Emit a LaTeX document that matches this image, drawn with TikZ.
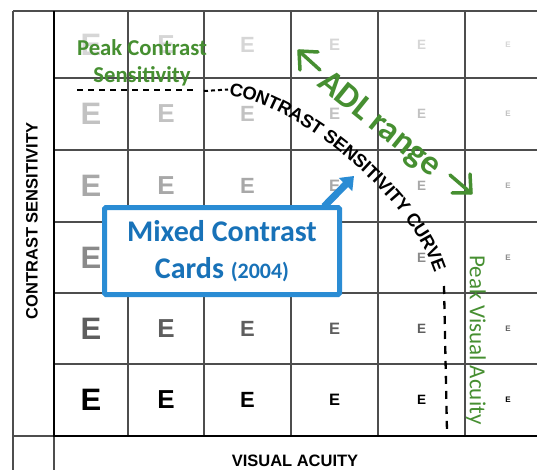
\documentclass[tikz,border=0pt]{standalone}
\usepackage{fontspec}
\setmainfont{Liberation Sans}
\newfontfamily\calfont{Carlito}
\usetikzlibrary{decorations.text,arrows.meta,calc}
\definecolor{gridc}{HTML}{4D4D4D}
\definecolor{adlgreen}{HTML}{468F31}
\definecolor{boxblue}{HTML}{2A8CD4}
\definecolor{textblue}{HTML}{1872B8}
\definecolor{ecol1}{HTML}{D6D6D6}
\definecolor{ecol2}{HTML}{C2C2C2}
\definecolor{ecol3}{HTML}{A8A8A8}
\definecolor{ecol4}{HTML}{8A8A8A}
\definecolor{ecol5}{HTML}{5E5E5E}
\definecolor{ecol6}{HTML}{000000}
\tikzset{
  thinline/.style={draw=gridc, line width=1.2pt},
  gridline/.style={draw=gridc, line width=1.2pt},
  thickline/.style={draw=black, line width=2.6pt, line join=miter},
  echar/.style={inner sep=0pt},
  greentext/.style={text=adlgreen, inner sep=0pt},
  curvedash/.style={draw=black, line width=2pt, dash pattern=on 6pt off 5pt},
  vertdash/.style={draw=black, line width=2.3pt, dash pattern=on 8pt off 7pt},
  adlarrow/.style={draw=adlgreen, line width=3.5pt, line cap=round, line join=round},
  mcbox/.style={draw=boxblue, line width=5pt, fill=white, text=textblue,
    font=\calfont\bfseries\fontsize{30}{37}\selectfont, align=center,
    minimum width=235pt, minimum height=87pt, inner sep=0pt, rounded corners=1.5pt},
  bluearrow/.style={draw=boxblue, line width=7pt, -{Triangle[length=12pt,width=18pt]}},
  axislabel/.style={font=\bfseries\fontsize{16.5}{16.5}\selectfont, inner sep=0pt}
}
\begin{document}
\begin{tikzpicture}[x=1pt,y=-1pt]
\useasboundingbox (0,0) rectangle (537,470);
\fill[white] (0,0) rectangle (537,470);
% frame and grid
\draw[thinline] (13,11) -- (537,11);
\draw[thinline] (13,11) -- (13,470);
\foreach \x in {128,204,291,378,465} \draw[gridline] (\x,11) -- (\x,436);
\foreach \y in {78,150,222,293,364} \draw[gridline] (54,\y) -- (537,\y);
\draw[thinline] (13,436) -- (54,436);
\draw[thinline] (54,436) -- (54,470);
\draw[thickline] (54,11) -- (54,436) -- (537,436);
% letters E
\foreach \yy/\cc [count=\i] in {44.5/ecol1,114/ecol2,186/ecol3,257.5/ecol4,328.5/ecol5,400/ecol6}{
  \foreach \xx/\ss [count=\j] in {91/31,166/26,247.5/22,334.5/16.5,421.5/13.5,508/8}{
    \node[echar, text=\cc, font=\bfseries\fontsize{\ss}{\ss}\selectfont] (e\i\j) at (\xx,\yy) {E};
  }
}
% peak contrast sensitivity
\node[greentext, font=\calfont\bfseries\fontsize{22.7}{27}\selectfont, anchor=base] (pcs1) at (142,56) {Peak Contrast};
\node[greentext, font=\calfont\bfseries\fontsize{22.7}{27}\selectfont, anchor=base] (pcs2) at (142,83) {Sensitivity};
% contrast sensitivity curve
\coordinate (h1) at (77,90);
\coordinate (h2) at (194,90);
\coordinate (h3) at (204,91);
\coordinate (h4) at (228,89.5);
\coordinate (c0) at (230,89);
\coordinate (c3) at (446,300);
\coordinate (v1) at (444,286);
\coordinate (v2) at (447,432);
\draw[curvedash] (h1) -- (h2);
\draw[curvedash, dash pattern=on 4pt off 3pt] (h3) -- (h4);
\path[decorate, decoration={text along path, text align=left, raise=-6.5pt,
  text={|\bfseries\fontsize{18.3}{18.3}\selectfont|CONTRAST SENSITIVITY CURVE}}]
  (c0) .. controls (305,98) and (445,215) .. (c3);
\draw[vertdash] (v1) -- (v2);
% ADL range
\node[greentext, font=\calfont\bfseries\fontsize{35}{35}\selectfont, rotate=-39] (adl) at (379,125) {ADL range};
\coordinate (a1tip) at (299,51);
\coordinate (a1tail) at (320,70);
\coordinate (a1b1) at (318,52);
\coordinate (a1b2) at (300,70);
\draw[adlarrow] (a1tail) -- (a1tip);
\draw[adlarrow] (a1b1) -- (a1tip) -- (a1b2);
\coordinate (a2tip) at (471,193);
\coordinate (a2tail) at (450,175);
\coordinate (a2b1) at (452,193);
\coordinate (a2b2) at (470,174);
\draw[adlarrow] (a2tail) -- (a2tip);
\draw[adlarrow] (a2b1) -- (a2tip) -- (a2b2);
% peak visual acuity
\node[greentext, font=\calfont\fontsize{23}{23}\selectfont, rotate=-90] (pva) at (476,340) {Peak Visual Acuity};
% mixed contrast cards box
\node[mcbox] (mcc) at (222,251) {Mixed Contrast\\Cards {\fontsize{22}{22}\selectfont(2004)}};
\coordinate (mcctip) at (354,176);
\draw[bluearrow] ($(mcc.north east)+(-18,1.5)$) -- (mcctip);
% axis labels
\node[axislabel, rotate=90] (csl) at (32,221) {CONTRAST SENSITIVITY};
\node[axislabel] (val) at (295,461) {VISUAL ACUITY};
\end{tikzpicture}
\end{document}
